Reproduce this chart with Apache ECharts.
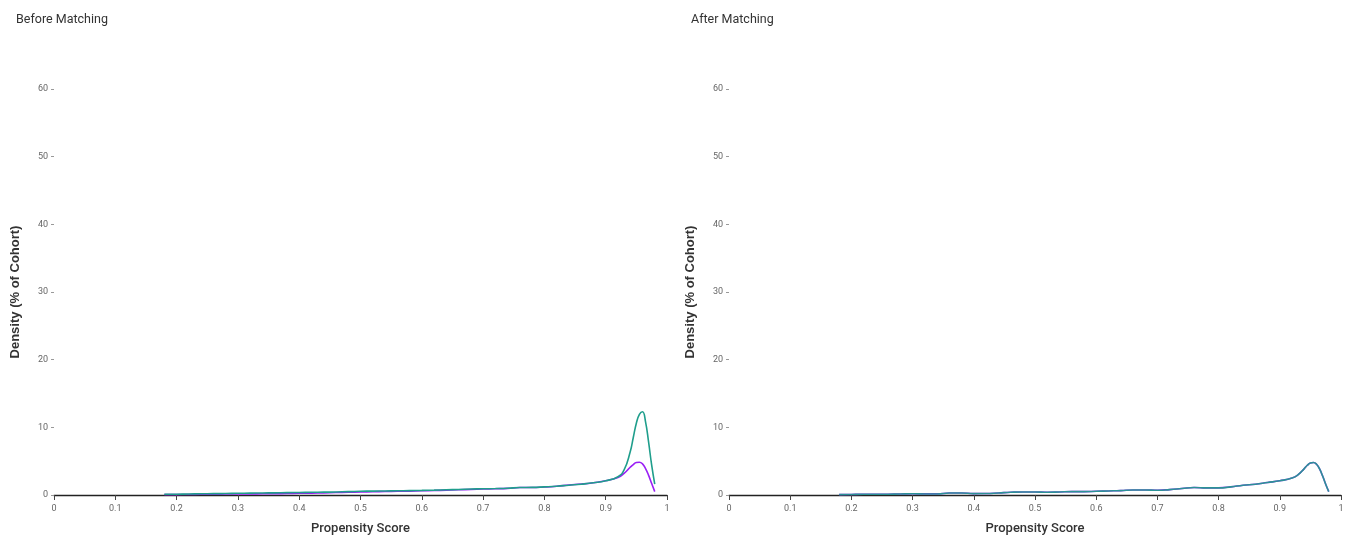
<!DOCTYPE html>
<html>
<head>
<meta charset="utf-8">
<script src="https://cdn.jsdelivr.net/npm/echarts@6/dist/echarts.min.js"></script>
<style>
html,body{margin:0;padding:0;background:#fff;}
#c{width:1355px;height:536px;}
</style>
</head>
<body>
<div id="c"></div>
<script>
// Propensity score grid (x values)
const scores = [0.18,0.20,0.22,0.24,0.26,0.28,0.30,0.32,0.34,0.36,0.38,0.40,0.42,0.44,0.46,0.48,0.50,0.52,0.54,0.56,0.58,0.60,0.62,0.64,0.66,0.68,0.70,0.72,0.74,0.76,0.78,0.80,0.82,0.84,0.86,0.88,0.90,0.92,0.93,0.94,0.945,0.95,0.955,0.96,0.965,0.97,0.975,0.98];
// Before matching - teal group
const beforeTeal = [0.10,0.12,0.15,0.18,0.20,0.22,0.25,0.28,0.30,0.32,0.35,0.38,0.40,0.42,0.45,0.50,0.55,0.58,0.60,0.62,0.65,0.68,0.72,0.78,0.82,0.88,0.92,0.95,1.00,1.10,1.12,1.20,1.30,1.45,1.60,1.80,2.10,2.70,3.70,6.40,8.50,10.6,11.9,12.3,10.8,7.8,4.4,1.6];
// Before matching - purple group
const beforePurple = [0.05,0.06,0.08,0.10,0.12,0.14,0.15,0.16,0.18,0.20,0.22,0.25,0.28,0.32,0.36,0.40,0.45,0.48,0.52,0.55,0.58,0.62,0.66,0.72,0.78,0.82,0.88,0.92,0.98,1.10,1.10,1.18,1.30,1.48,1.62,1.82,2.10,2.60,3.20,4.10,4.50,4.80,4.85,4.60,3.90,2.90,1.70,0.50];
// After matching - both groups (nearly identical)
const afterTeal = [0.05,0.08,0.10,0.10,0.12,0.15,0.18,0.15,0.15,0.30,0.30,0.20,0.22,0.30,0.40,0.45,0.45,0.40,0.45,0.50,0.50,0.55,0.60,0.65,0.75,0.75,0.70,0.80,0.95,1.10,1.05,1.05,1.20,1.45,1.60,1.85,2.10,2.50,3.00,3.90,4.40,4.72,4.80,4.55,3.85,2.80,1.60,0.50];
const afterPurple = [0.05,0.08,0.10,0.10,0.12,0.15,0.18,0.16,0.16,0.30,0.30,0.21,0.22,0.30,0.40,0.45,0.45,0.41,0.45,0.50,0.50,0.55,0.60,0.65,0.75,0.75,0.71,0.80,0.95,1.10,1.05,1.06,1.20,1.45,1.60,1.85,2.10,2.50,3.00,3.90,4.40,4.72,4.80,4.55,3.85,2.80,1.60,0.50];
const panelTitles = ['Before Matching','After Matching'];
const xTicks = {min:0, max:1, interval:0.1};
const yTicks = {min:0, max:60, interval:10};

const TEAL = '#1f9e8c', PURPLE = '#9a1ff5';
const pairs = ys => scores.map((x,i)=>[x, ys[i]]);

function xAxis(gi){
  return {
    type:'value', gridIndex:gi, min:xTicks.min, max:xTicks.max, interval:xTicks.interval,
    name:'Propensity Score', nameLocation:'middle', nameGap:27,
    nameTextStyle:{fontFamily:'Roboto', fontSize:13, fontWeight:500, color:'#333'},
    axisLine:{show:true, lineStyle:{color:'#222', width:1.3}},
    axisTick:{show:true, length:5, lineStyle:{color:'#444'}},
    axisLabel:{fontFamily:'Roboto', fontSize:9, color:'#666', margin:9},
    splitLine:{show:false}
  };
}
function yAxis(gi){
  return {
    type:'value', gridIndex:gi, min:yTicks.min, max:yTicks.max, interval:yTicks.interval,
    name:'Density (% of Cohort)', nameLocation:'middle', nameGap:32,
    nameTextStyle:{fontFamily:'Liberation Sans', fontSize:13, fontWeight:'bold', color:'#333'},
    axisLine:{show:false},
    axisTick:{show:true, length:3, lineStyle:{color:'#999'}},
    axisLabel:{fontFamily:'Roboto', fontSize:9, color:'#666', margin:6},
    splitLine:{show:false}
  };
}
function line(gi, ys, color, z, opacity){
  return {
    type:'line', xAxisIndex:gi, yAxisIndex:gi, data:pairs(ys), smooth:0.5,
    showSymbol:false, symbol:'none', z:z,
    lineStyle:{color:color, width:1.6, opacity:opacity===undefined?1:opacity}
  };
}

const chart = echarts.init(document.getElementById('c'));
chart.setOption({
  animation:false,
  title:[
    {text:panelTitles[0], left:11, top:8, textStyle:{fontFamily:'Roboto', fontSize:12.5, fontWeight:'normal', color:'#333'}},
    {text:panelTitles[1], left:686, top:8, textStyle:{fontFamily:'Roboto', fontSize:12.5, fontWeight:'normal', color:'#333'}}
  ],
  grid:[
    {left:54, top:89, width:613, bottom:41, outerBoundsMode:'none', containLabel:false},
    {left:729, top:89, width:612, bottom:41, outerBoundsMode:'none', containLabel:false}
  ],
  xAxis:[xAxis(0), xAxis(1)],
  yAxis:[yAxis(0), yAxis(1)],
  series:[
    line(0, beforePurple, PURPLE, 2),
    line(0, beforeTeal, TEAL, 3),
    line(1, afterPurple, PURPLE, 2),
    line(1, afterTeal, TEAL, 3, 0.9)
  ]
});
</script>
</body>
</html>
